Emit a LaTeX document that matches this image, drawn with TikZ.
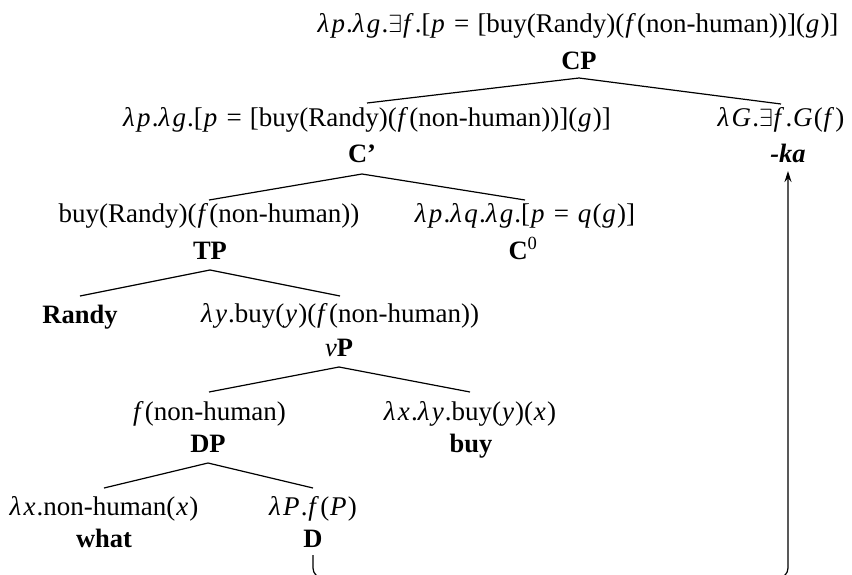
\documentclass[tikz,border=0pt]{standalone}
\usepackage{fontspec}
\setmainfont{Liberation Serif}
\usetikzlibrary{arrows.meta}
\newcommand{\fsz}{\fontsize{27}{30}\selectfont}
\newcommand{\lfsz}{\fontsize{26.5}{30}\selectfont}
\newcommand{\vi}[1]{\kern0.8pt\textit{#1}\kern1.2pt}
\newcommand{\lm}{\textit{λ}\kern1.5pt}
\newcommand{\exq}{$\exists$}
\newcommand{\eqs}{\hspace{0.3em}=\hspace{0.3em}}
\begin{document}
\begin{tikzpicture}[x=1pt,y=-1pt,
  ex/.style={anchor=base,inner sep=0pt,font=\fsz},
  lb/.style={anchor=base,inner sep=0pt,font=\lfsz\bfseries},
  edge/.style={line width=1.2pt}]
\useasboundingbox (0,0) rectangle (852,574);
% nodes
\node[ex] (e1) at (578,32) {\lm\vi{p}.\lm\vi{g}.\exq\vi{f}.[\vi{p}\eqs[buy(Randy)(\vi{f}(non-human))](\vi{g})]};
\node[lb] (cp) at (579,69) {CP};
\node[ex] (e2) at (367,126) {\lm\vi{p}.\lm\vi{g}.[\vi{p}\eqs[buy(Randy)(\vi{f}(non-human))](\vi{g})]};
\node[lb] (cbar) at (362,162) {C’};
\node[ex] (e3) at (781,126) {\lm\vi{G}.\exq\vi{f}.\vi{G}(\vi{f})};
\node[lb] (ka) at (788,162) {\textit{-ka}};
\node[ex] (e4) at (209,222) {buy(Randy)(\vi{f}(non-human))};
\node[lb] (tp) at (210,259) {TP};
\node[ex] (e5) at (525,222) {\lm\vi{p}.\lm\vi{q}.\lm\vi{g}.[\vi{p}\eqs\vi{q}(\vi{g})]};
\node[lb] (c0) at (523,259) {C\textsuperscript{\mdseries 0}};
\node[lb] (randy) at (80,323) {Randy};
\node[ex] (e6) at (340,322) {\lm\vi{y}.buy(\vi{y})(\vi{f}(non-human))};
\node[lb] (vp) at (339,356) {\textmd{\textit{v}}P};
\node[ex] (e7) at (209,420) {\vi{f}(non-human)};
\node[lb] (dp) at (208,452) {DP};
\node[ex] (e8) at (470,420) {\lm\vi{x}.\lm\vi{y}.buy(\vi{y})(\vi{x})};
\node[lb] (buy) at (471,452) {buy};
\node[ex] (e9) at (104,515) {\lm\vi{x}.non-human(\vi{x})};
\node[ex] (e10) at (313,515) {\lm\vi{P}.\vi{f}(\vi{P})};
\node[lb] (what) at (104,547) {what};
\node[lb] (d) at (313,547) {D};
% edges
\draw[edge] ([yshift=-9pt]cp.base) -- ([yshift=23pt]e2.base);
\draw[edge] ([yshift=-9pt]cp.base) -- ([yshift=22pt]e3.base);
\draw[edge] ([yshift=-12pt]cbar.base) -- ([yshift=22pt]e4.base);
\draw[edge] ([yshift=-12pt]cbar.base) -- ([yshift=22pt]e5.base);
\draw[edge] ([yshift=-11pt]tp.base) -- ([yshift=27pt]randy.base);
\draw[edge] ([yshift=-11pt]tp.base) -- ([yshift=26pt]e6.base);
\draw[edge] ([yshift=-11pt]vp.base) -- ([yshift=28pt]e7.base);
\draw[edge] ([yshift=-11pt]vp.base) -- ([yshift=28pt]e8.base);
\draw[edge] ([yshift=-11pt]dp.base) -- ([yshift=27pt]e9.base);
\draw[edge] ([yshift=-11pt]dp.base) -- ([yshift=27pt]e10.base);
% movement arrow
\coordinate (bot) at (0,578);
\coordinate (dl) at ([yshift=-8pt]d.base);
\coordinate (kl) at ([yshift=-9pt]ka.base);
\draw[edge,rounded corners=10pt,-{Stealth[length=11pt,width=7pt]}]
  (dl) -- (dl |- bot) -- (kl |- bot) -- (kl);
\end{tikzpicture}
\end{document}
